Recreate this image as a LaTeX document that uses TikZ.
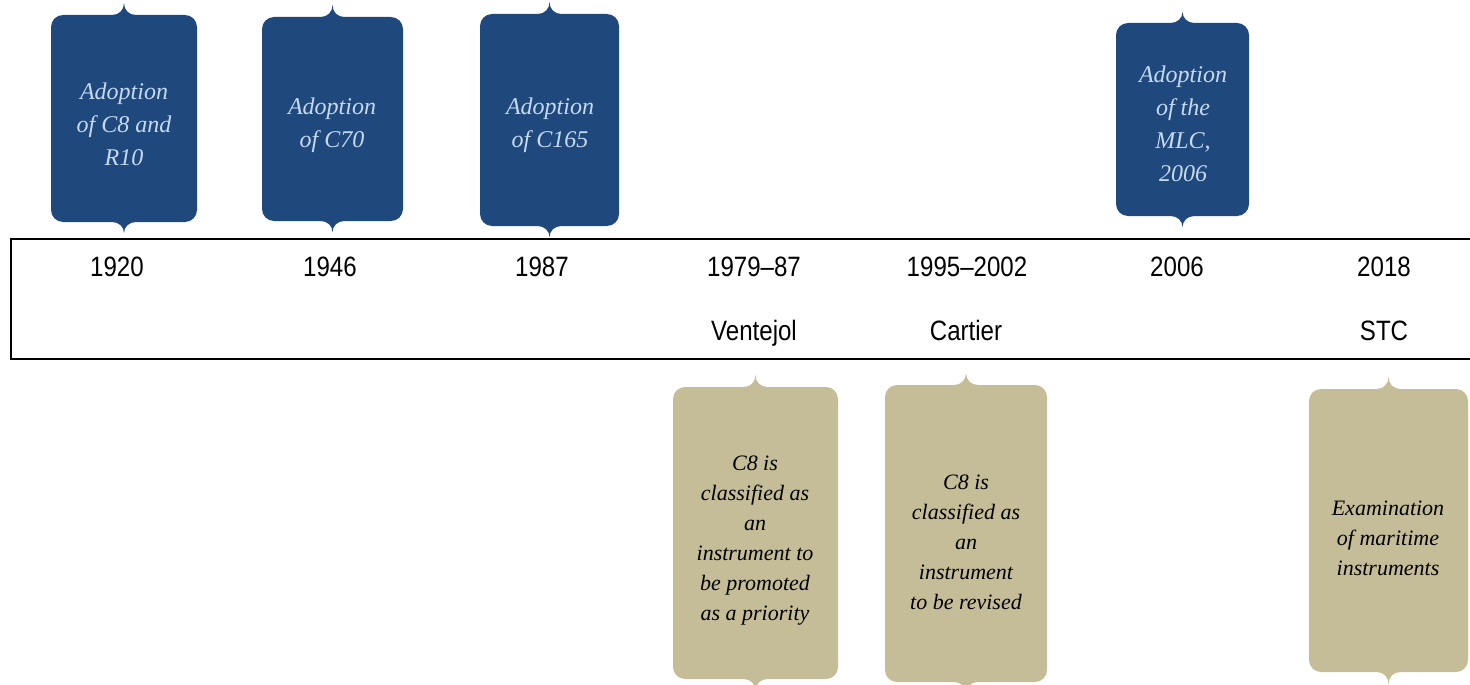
\documentclass[tikz,border=0pt]{standalone}
\usepackage{fontspec}
\setmainfont{Liberation Serif}
\newfontfamily\yearfont[FakeStretch=0.86]{Liberation Sans}
\definecolor{boxblue}{HTML}{1F497D}
\definecolor{boxtan}{HTML}{C4BD97}
\definecolor{lightblue}{HTML}{C6D9F1}
\tikzset{
  bluetext/.style={text=lightblue, align=center, font=\itshape\fontsize{18}{24.75}\selectfont},
  tantext/.style={text=black, align=center, font=\itshape\fontsize{16.5}{22.5}\selectfont},
  yeartext/.style={anchor=base, font=\yearfont\fontsize{21}{25}\selectfont},
  frameline/.style={line width=1.5pt, draw=black}
}
% #1 colour, #2 left, #3 right, #4 top, #5 bottom, #6 top tip, #7 bottom tip
\newcommand\tlbox[7]{%
  \pgfmathsetmacro\tlcx{(#2+#3)/2}%
  \fill[#1] (#2,{#4+12}) .. controls (#2,{#4+5.4}) and ({#2+5.4},#4) .. ({#2+12},#4)
    -- ({\tlcx-12},#4) .. controls ({\tlcx-5},#4) and (\tlcx,{#4-5}) .. (\tlcx,#6)
    .. controls (\tlcx,{#4-5}) and ({\tlcx+5},#4) .. ({\tlcx+12},#4)
    -- ({#3-12},#4) .. controls ({#3-5.4},#4) and (#3,{#4+5.4}) .. (#3,{#4+12})
    -- (#3,{#5-12}) .. controls (#3,{#5-5.4}) and ({#3-5.4},#5) .. ({#3-12},#5)
    -- ({\tlcx+12},#5) .. controls ({\tlcx+5},#5) and (\tlcx,{#5+5}) .. (\tlcx,#7)
    .. controls (\tlcx,{#5+5}) and ({\tlcx-5},#5) .. ({\tlcx-12},#5)
    -- ({#2+12},#5) .. controls ({#2+5.4},#5) and (#2,{#5-5.4}) .. (#2,{#5-12}) -- cycle;
}
\begin{document}
\begin{tikzpicture}[x=0.75pt,y=-0.75pt]
\useasboundingbox (0,0) rectangle (1470,685);

% timeline frame (open to the right)
\draw[frameline] (1480,239) -- (11,239) -- (11,359) -- (1480,359);

% blue boxes
\tlbox{boxblue}{51}{197}{15}{222}{3}{233}
\node[bluetext] (b1) at (124,124) {Adoption\\of C8 and\\R10};
\tlbox{boxblue}{262}{403}{17}{221}{5}{232}
\node[bluetext] (b2) at (332,125) {Adoption\\of C70};
\tlbox{boxblue}{480}{619}{14}{226}{2}{237}
\node[bluetext] (b3) at (550,125) {Adoption\\of C165};
\tlbox{boxblue}{1116}{1249}{23}{216}{12}{227}
\node[bluetext] (b4) at (1183,124) {Adoption\\of the\\MLC,\\2006};

% tan boxes
\tlbox{boxtan}{673}{838}{387}{679}{375}{691}
\node[tantext] (t1) at (755,541) {C8 is\\classified as\\an\\instrument to\\be promoted\\as a priority};
\tlbox{boxtan}{885}{1047}{385}{682}{373}{694}
\node[tantext] (t2) at (966,542) {C8 is\\classified as\\an\\instrument\\to be revised};
\tlbox{boxtan}{1309}{1468}{389}{672}{377}{684}
\node[tantext] (t3) at (1388,538) {Examination\\of maritime\\instruments};

% years
\node[yeartext] (y1) at (117,276) {1920};
\node[yeartext] (y2) at (330,276) {1946};
\node[yeartext] (y3) at (542,276) {1987};
\node[yeartext] (y4) at (754,276) {1979–87};
\node[yeartext] (y5) at (967,276) {1995–2002};
\node[yeartext] (y6) at (1177,276) {2006};
\node[yeartext] (y7) at (1384,276) {2018};
\node[yeartext] (l4) at (754,340) {Ventejol};
\node[yeartext] (l5) at (966,340) {Cartier};
\node[yeartext] (l7) at (1384,340) {STC};
\end{tikzpicture}
\end{document}
